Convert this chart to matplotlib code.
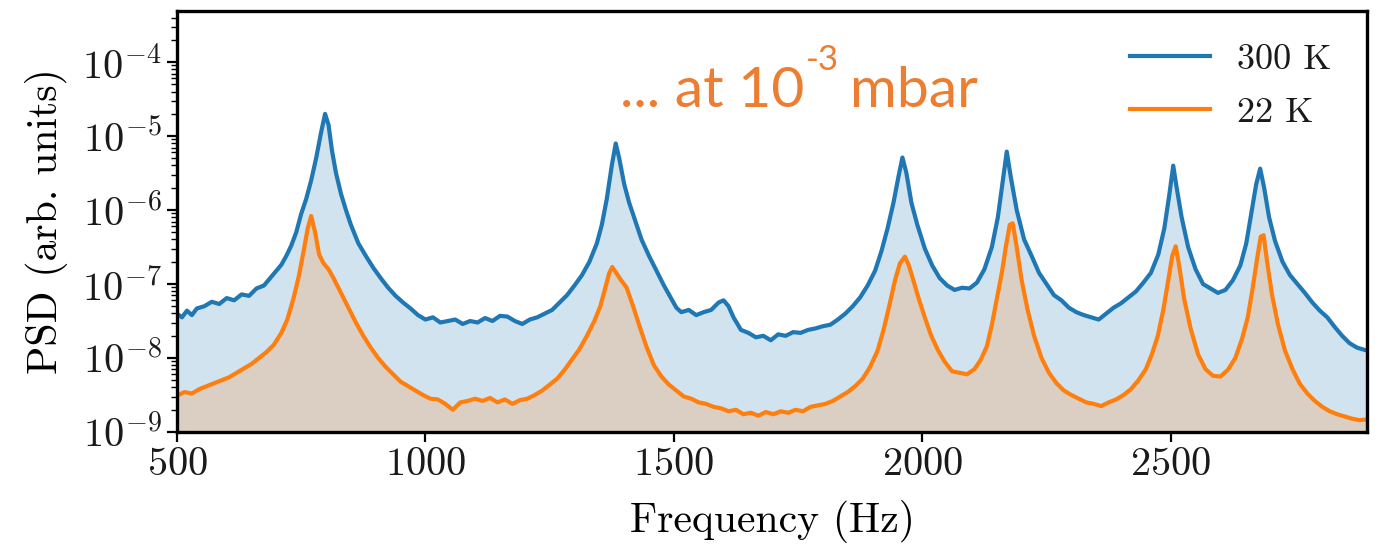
import numpy as np
import matplotlib
matplotlib.use("Agg")
import matplotlib.pyplot as plt
from matplotlib.ticker import LogLocator, NullFormatter

# PSD spectra (frequency in Hz, log10 of PSD)
freq_300 = [500, 510, 520, 530, 540, 555, 570, 585, 600, 615, 630, 645, 660, 675, 690, 700,
            710, 720, 730, 740, 750, 760, 770, 780, 790, 798, 805, 812, 820, 830, 840, 850,
            865, 880, 895, 910, 925, 940, 955, 970, 985, 1000, 1015, 1030, 1045, 1060, 1075,
            1090, 1105, 1120, 1135, 1150, 1165, 1180, 1195, 1210, 1225, 1240, 1255, 1270, 1285,
            1300, 1315, 1330, 1345, 1355, 1365, 1375, 1383, 1390, 1400, 1410, 1420, 1435, 1450,
            1465, 1480, 1495, 1505, 1515, 1530, 1545, 1560, 1575, 1590, 1600, 1610, 1620, 1635,
            1650, 1665, 1680, 1695, 1710, 1725, 1740, 1755, 1770, 1785, 1800, 1815, 1830, 1845,
            1860, 1875, 1890, 1905, 1918, 1930, 1942, 1952, 1960, 1968, 1978, 1990, 2005, 2020,
            2035, 2050, 2065, 2080, 2095, 2110, 2125, 2140, 2152, 2162, 2170, 2178, 2190, 2205,
            2220, 2235, 2250, 2265, 2280, 2295, 2310, 2325, 2340, 2355, 2370, 2385, 2400, 2415,
            2430, 2445, 2460, 2475, 2487, 2497, 2505, 2512, 2522, 2535, 2550, 2565, 2580, 2595,
            2610, 2625, 2640, 2652, 2662, 2672, 2680, 2688, 2698, 2710, 2725, 2740, 2755, 2770,
            2785, 2800, 2815, 2830, 2845, 2860, 2875, 2895]
logpsd_300 = [-7.40, -7.45, -7.36, -7.42, -7.33, -7.30, -7.24, -7.27, -7.19, -7.22, -7.14, -7.16,
              -7.06, -7.02, -6.90, -6.82, -6.74, -6.62, -6.48, -6.30, -6.05, -5.85, -5.60, -5.30,
              -4.95, -4.70, -4.85, -5.20, -5.50, -5.78, -6.00, -6.20, -6.45, -6.62, -6.78, -6.92,
              -7.05, -7.16, -7.25, -7.33, -7.42, -7.48, -7.45, -7.52, -7.50, -7.48, -7.54, -7.50,
              -7.52, -7.46, -7.50, -7.43, -7.44, -7.50, -7.54, -7.48, -7.45, -7.40, -7.35, -7.25,
              -7.15, -7.02, -6.88, -6.70, -6.45, -6.20, -5.85, -5.40, -5.10, -5.30, -5.65, -5.90,
              -6.10, -6.40, -6.62, -6.82, -7.02, -7.20, -7.32, -7.38, -7.35, -7.42, -7.38, -7.35,
              -7.25, -7.22, -7.30, -7.45, -7.62, -7.66, -7.72, -7.70, -7.76, -7.68, -7.70, -7.65,
              -7.66, -7.62, -7.60, -7.57, -7.55, -7.48, -7.40, -7.30, -7.18, -7.02, -6.82, -6.55,
              -6.25, -5.90, -5.55, -5.29, -5.50, -5.90, -6.20, -6.52, -6.75, -6.92, -7.02, -7.08,
              -7.05, -7.06, -6.98, -6.80, -6.50, -6.10, -5.60, -5.21, -5.55, -6.00, -6.40, -6.62,
              -6.85, -7.00, -7.15, -7.22, -7.32, -7.38, -7.42, -7.45, -7.48, -7.40, -7.32, -7.26,
              -7.18, -7.10, -6.98, -6.85, -6.60, -6.25, -5.80, -5.40, -5.70, -6.10, -6.50, -6.80,
              -7.00, -7.06, -7.12, -7.08, -6.95, -6.75, -6.45, -6.05, -5.65, -5.44, -5.70, -6.10,
              -6.42, -6.70, -6.88, -7.00, -7.12, -7.25, -7.36, -7.45, -7.58, -7.70, -7.80, -7.86,
              -7.90]

freq_22 = [500, 515, 530, 545, 560, 575, 590, 605, 620, 635, 650, 665, 680, 695, 710, 722, 735,
           745, 755, 763, 770, 778, 786, 795, 805, 815, 830, 845, 860, 875, 890, 905, 920, 935,
           950, 965, 980, 995, 1010, 1025, 1040, 1055, 1070, 1085, 1100, 1115, 1130, 1145, 1160,
           1175, 1190, 1205, 1220, 1235, 1250, 1265, 1280, 1295, 1310, 1325, 1340, 1352, 1362,
           1370, 1376, 1384, 1394, 1405, 1418, 1430, 1445, 1460, 1475, 1490, 1505, 1520, 1535,
           1550, 1565, 1580, 1595, 1610, 1625, 1640, 1655, 1670, 1685, 1700, 1715, 1730, 1745,
           1760, 1775, 1790, 1805, 1820, 1835, 1850, 1865, 1880, 1895, 1910, 1922, 1934, 1945,
           1955, 1965, 1973, 1982, 1992, 2005, 2018, 2032, 2045, 2060, 2075, 2090, 2105, 2118,
           2130, 2140, 2150, 2160, 2168, 2176, 2182, 2190, 2200, 2212, 2225, 2240, 2255, 2270,
           2285, 2300, 2315, 2330, 2345, 2360, 2375, 2390, 2405, 2420, 2435, 2450, 2462, 2474,
           2485, 2495, 2503, 2510, 2517, 2527, 2540, 2555, 2570, 2585, 2600, 2615, 2630, 2643,
           2655, 2665, 2674, 2681, 2687, 2694, 2704, 2716, 2730, 2745, 2760, 2775, 2790, 2805,
           2820, 2835, 2850, 2865, 2880, 2895]
logpsd_22 = [-8.51, -8.46, -8.48, -8.42, -8.38, -8.34, -8.30, -8.26, -8.20, -8.14, -8.08, -8.00,
             -7.92, -7.82, -7.66, -7.48, -7.18, -6.90, -6.55, -6.25, -6.08, -6.30, -6.60, -6.72,
             -6.80, -6.92, -7.12, -7.32, -7.52, -7.70, -7.86, -8.00, -8.12, -8.22, -8.32, -8.38,
             -8.44, -8.50, -8.55, -8.56, -8.62, -8.70, -8.60, -8.58, -8.55, -8.58, -8.54, -8.60,
             -8.56, -8.62, -8.57, -8.55, -8.50, -8.44, -8.36, -8.28, -8.16, -8.02, -7.88, -7.70,
             -7.50, -7.30, -7.05, -6.85, -6.77, -6.85, -6.95, -7.05, -7.30, -7.55, -7.85, -8.10,
             -8.25, -8.36, -8.44, -8.52, -8.55, -8.60, -8.62, -8.66, -8.68, -8.72, -8.70, -8.76,
             -8.74, -8.78, -8.73, -8.76, -8.72, -8.74, -8.70, -8.72, -8.66, -8.64, -8.62, -8.58,
             -8.52, -8.46, -8.38, -8.28, -8.12, -7.90, -7.62, -7.28, -6.95, -6.72, -6.63, -6.75,
             -6.95, -7.18, -7.45, -7.70, -7.90, -8.05, -8.18, -8.20, -8.22, -8.15, -8.02, -7.84,
             -7.55, -7.20, -6.85, -6.50, -6.20, -6.18, -6.50, -6.95, -7.35, -7.70, -8.00, -8.20,
             -8.34, -8.44, -8.50, -8.55, -8.60, -8.62, -8.65, -8.60, -8.56, -8.50, -8.42, -8.30,
             -8.15, -7.95, -7.70, -7.35, -6.95, -6.62, -6.49, -6.75, -7.20, -7.60, -7.95, -8.15,
             -8.24, -8.25, -8.16, -8.00, -7.75, -7.45, -7.05, -6.65, -6.36, -6.34, -6.70, -7.15,
             -7.55, -7.90, -8.15, -8.35, -8.48, -8.58, -8.66, -8.72, -8.76, -8.79, -8.82, -8.84,
             -8.83]

labels = ["300 K", "22 K"]

plt.rcParams["font.family"] = "serif"
plt.rcParams["font.serif"] = ["cmr10"]
plt.rcParams["mathtext.fontset"] = "cm"
plt.rcParams["axes.formatter.use_mathtext"] = True
plt.rcParams["text.color"] = "#1a1a1a"
plt.rcParams["xtick.labelcolor"] = "#1a1a1a"
plt.rcParams["ytick.labelcolor"] = "#1a1a1a"

W, H = 1383, 545
fig = plt.figure(figsize=(W / 100, H / 100), dpi=100)
ax = fig.add_axes([177 / W, 113 / H, 1190 / W, 421 / H])

psd_300 = 10.0 ** np.array(logpsd_300)
psd_22 = 10.0 ** np.array(logpsd_22)

ax.fill_between(freq_300, psd_300, 1e-10, color="#1f77b4", alpha=0.2, lw=0)
ax.fill_between(freq_22, psd_22, 1e-10, color="#ff7f0e", alpha=0.2, lw=0)
ax.plot(freq_300, psd_300, color="#1f77b4", lw=3.0, label=labels[0])
ax.plot(freq_22, psd_22, color="#ff7f0e", lw=3.0, label=labels[1])

ax.set_yscale("log")
ax.set_xlim(500, 2895)
ax.set_ylim(1e-9, 4.9e-4)
ax.set_xticks([500, 1000, 1500, 2000, 2500])
ax.yaxis.set_major_locator(LogLocator(base=10, numticks=20))
ax.yaxis.set_minor_locator(LogLocator(base=10, subs=np.arange(2, 10), numticks=20))
ax.yaxis.set_minor_formatter(NullFormatter())

ax.tick_params(axis="both", which="major", labelsize=29, length=7, width=1.6,
               direction="out", pad=4)
ax.tick_params(axis="y", which="minor", length=4, width=1.0, direction="out")
for sp in ax.spines.values():
    sp.set_linewidth(2.4)

ax.set_xlabel("Frequency (Hz)", fontsize=30, labelpad=12)
ax.set_ylabel("PSD (arb. units)", fontsize=30, labelpad=10)

ax.legend(loc="upper right", bbox_to_anchor=(0.982, 0.957), fontsize=26, frameon=False,
          handlelength=2.2, handletextpad=0.75, borderaxespad=0, labelspacing=0.58)

# orange annotation, built from three pieces so the exponent is a real superscript
orange = "#ED7D31"
sans = ["Lato", "DejaVu Sans"]
fig.canvas.draw()
r = fig.canvas.get_renderer()
t1 = fig.text(620 / W, (H - 107) / H, "... at 10", color=orange, fontsize=41,
              family=sans, va="baseline")
bb = t1.get_window_extent(r)
t2 = fig.text((bb.x1 + 1) / W, (H - 70) / H, "-3", color=orange, fontsize=25,
              family=sans, va="baseline")
bb2 = t2.get_window_extent(r)
fig.text((bb2.x1 + 12) / W, (H - 107) / H, "mbar", color=orange, fontsize=41,
         family=sans, va="baseline")

fig.savefig("out.png", dpi=100)
